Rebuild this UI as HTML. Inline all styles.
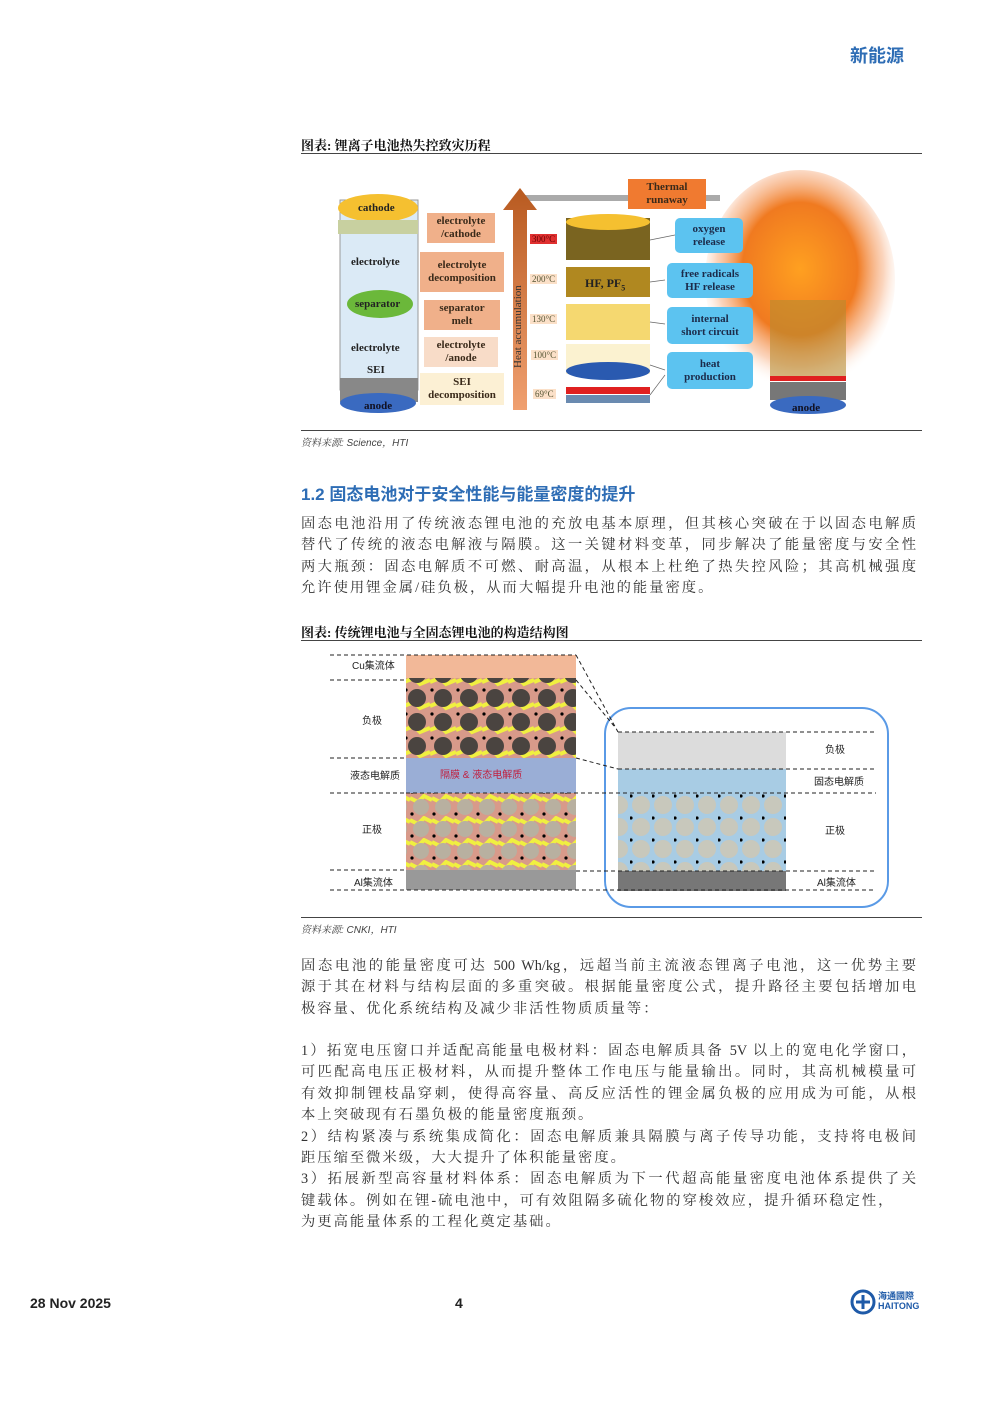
<!DOCTYPE html>
<html><head><meta charset="utf-8">
<style>
body{margin:0;background:#fff;}
#p{position:relative;width:992px;height:1403px;overflow:hidden;font-family:"Liberation Sans","Noto Sans CJK SC",sans-serif;color:#222;}
.a{position:absolute;}
.t{position:absolute;left:301px;width:615px;font-family:"Liberation Serif","Noto Serif CJK SC",serif;font-size:14.3px;line-height:21.4px;color:#333;}
.t div{text-align:justify;text-align-last:justify;white-space:nowrap;}
.t div.l{text-align-last:left;letter-spacing:2px;}
.cap{position:absolute;left:301px;font-family:"Liberation Serif","Noto Serif CJK SC",serif;font-weight:bold;font-size:13px;color:#111;}
.rule{position:absolute;left:301px;width:621px;height:1px;background:#444;}
.src{position:absolute;left:301px;font-size:10px;font-style:italic;color:#444;font-family:"Liberation Sans","Noto Serif CJK SC",sans-serif;}
.bx{position:absolute;font-family:"Liberation Serif",serif;font-weight:bold;font-size:11px;text-align:center;line-height:13px;color:#3a2a1a;display:flex;align-items:center;justify-content:center;}
.bl{position:absolute;background:#5cc3f0;border-radius:5px;font-family:"Liberation Serif",serif;font-weight:bold;font-size:11px;text-align:center;line-height:13px;color:#1c2b4a;display:flex;align-items:center;justify-content:center;}
.tc{position:absolute;font-family:"Liberation Serif",serif;font-size:9px;color:#553;background:#fbe0c8;padding:0 2px;}
.lb{position:absolute;font-size:10px;color:#222;}
</style></head><body><div id="p">
<div class="a" style="left:850px;top:42px;font-size:18px;font-weight:bold;color:#2e6db5;font-family:'Noto Sans CJK SC',sans-serif;">新能源</div>

<div class="cap" style="top:135px;">图表: 锂离子电池热失控致灾历程</div>
<div class="rule" style="top:153px;"></div>

<svg class="a" style="left:300px;top:170px" width="600" height="250">
<defs>
<radialGradient id="fire" cx="0.5" cy="0.45" r="0.55"><stop offset="0" stop-color="#ffa020"/><stop offset="0.55" stop-color="#f07a20"/><stop offset="0.8" stop-color="#f8b890" stop-opacity="0.6"/><stop offset="1" stop-color="#fff" stop-opacity="0"/></radialGradient>
<linearGradient id="arr" x1="0" y1="0" x2="0" y2="1"><stop offset="0" stop-color="#b85a20"/><stop offset="1" stop-color="#f0a070"/></linearGradient>
</defs>
<rect x="40" y="30" width="78" height="190" fill="#dbeaf6" stroke="#999"/>
<ellipse cx="78" cy="38" rx="40" ry="14" fill="#f5c030"/>
<rect x="38" y="50" width="80" height="14" fill="#c8d0a0"/>
<ellipse cx="80" cy="134" rx="33" ry="14" fill="#6bb83a"/>
<rect x="40" y="208" width="78" height="24" fill="#888"/>
<ellipse cx="78" cy="233" rx="38" ry="10" fill="#3a6ac0"/>
<rect x="220" y="25" width="200" height="6" fill="#aaa"/>
<polygon points="220,18 237,40 227,40 227,240 213,240 213,40 203,40" fill="url(#arr)"/>
<rect x="266" y="48" width="84" height="42" fill="#7a6420"/>
<ellipse cx="308" cy="52" rx="42" ry="8" fill="#f5c030"/>
<rect x="266" y="97" width="84" height="30" fill="#b08820"/>
<rect x="266" y="134" width="84" height="36" fill="#f5d870"/>
<rect x="266" y="174" width="84" height="30" fill="#fbf2d0"/>
<ellipse cx="308" cy="201" rx="42" ry="9" fill="#2a5ab0"/>
<rect x="266" y="217" width="84" height="7" fill="#e02020"/>
<rect x="266" y="225" width="84" height="8" fill="#6a8ab0"/>
<ellipse cx="500" cy="110" rx="95" ry="110" fill="url(#fire)"/>
<rect x="470" y="130" width="76" height="76" fill="#b88a30" opacity="0.6"/>
<rect x="470" y="206" width="76" height="5" fill="#e02020"/>
<rect x="470" y="212" width="76" height="18" fill="#777"/>
<ellipse cx="508" cy="235" rx="38" ry="9" fill="#3a6ac0"/>
<g stroke="#666" stroke-width="0.7"><line x1="350" y1="70" x2="375" y2="65"/><line x1="350" y1="112" x2="365" y2="110"/><line x1="350" y1="152" x2="365" y2="154"/><line x1="350" y1="195" x2="365" y2="200"/><line x1="350" y1="225" x2="365" y2="205"/></g>
</svg>
<div class="a" style="left:358px;top:202px;font-family:'Liberation Serif';font-weight:bold;font-size:11px;">cathode</div>
<div class="a" style="left:351px;top:256px;font-family:'Liberation Serif';font-weight:bold;font-size:11px;">electrolyte</div>
<div class="a" style="left:355px;top:298px;font-family:'Liberation Serif';font-weight:bold;font-size:11px;">separator</div>
<div class="a" style="left:351px;top:342px;font-family:'Liberation Serif';font-weight:bold;font-size:11px;">electrolyte</div>
<div class="a" style="left:367px;top:364px;font-family:'Liberation Serif';font-weight:bold;font-size:11px;">SEI</div>
<div class="a" style="left:364px;top:400px;font-family:'Liberation Serif';font-weight:bold;font-size:11px;color:#112;">anode</div>
<div class="bx" style="left:427px;top:213px;width:68px;height:30px;background:#f0b08a;">electrolyte<br>/cathode</div>
<div class="bx" style="left:420px;top:252px;width:84px;height:40px;background:#f0b08a;">electrolyte<br>decomposition</div>
<div class="bx" style="left:424px;top:300px;width:76px;height:30px;background:#f0b08a;">separator<br>melt</div>
<div class="bx" style="left:424px;top:337px;width:74px;height:30px;background:#f8dcc8;">electrolyte<br>/anode</div>
<div class="bx" style="left:420px;top:373px;width:84px;height:32px;background:#fcf0d4;">SEI<br>decomposition</div>
<div class="bx" style="left:628px;top:179px;width:78px;height:30px;background:#f07a30;">Thermal<br>runaway</div>
<div class="a" style="left:512px;top:368px;transform:rotate(-90deg);transform-origin:0 0;font-family:'Liberation Serif';font-size:11px;color:#333;">Heat accumulation</div>
<div class="tc" style="left:530px;top:234px;background:#e03030;color:#600;">300°C</div>
<div class="tc" style="left:530px;top:274px;">200°C</div>
<div class="tc" style="left:530px;top:314px;">130°C</div>
<div class="tc" style="left:531px;top:350px;">100°C</div>
<div class="tc" style="left:533px;top:389px;">69°C</div>
<div class="a" style="left:585px;top:276px;font-family:'Liberation Serif';font-weight:bold;font-size:12px;">HF, PF<sub style="font-size:8px">5</sub></div>
<div class="bl" style="left:675px;top:218px;width:68px;height:35px;">oxygen<br>release</div>
<div class="bl" style="left:667px;top:263px;width:86px;height:35px;">free radicals<br>HF release</div>
<div class="bl" style="left:667px;top:307px;width:86px;height:37px;">internal<br>short circuit</div>
<div class="bl" style="left:667px;top:352px;width:86px;height:37px;">heat<br>production</div>
<div class="a" style="left:792px;top:402px;font-family:'Liberation Serif';font-weight:bold;font-size:11px;color:#112;">anode</div>
<div class="rule" style="top:430px;"></div>
<div class="src" style="top:434px;">资料来源: Science，HTI</div>

<div class="a" style="left:301px;top:480px;font-size:17px;font-weight:bold;color:#2e6db5;font-family:'Liberation Sans','Noto Sans CJK SC',sans-serif;">1.2 固态电池对于安全性能与能量密度的提升</div>
<div class="t" style="top:514px;">
<div>固态电池沿用了传统液态锂电池的充放电基本原理，但其核心突破在于以固态电解质</div>
<div>替代了传统的液态电解液与隔膜。这一关键材料变革，同步解决了能量密度与安全性</div>
<div>两大瓶颈：固态电解质不可燃、耐高温，从根本上杜绝了热失控风险；其高机械强度</div>
<div class="l">允许使用锂金属/硅负极，从而大幅提升电池的能量密度。</div>
</div>

<div class="cap" style="top:622px;">图表: 传统锂电池与全固态锂电池的构造结构图</div>
<div class="rule" style="top:640px;"></div>

<svg class="a" style="left:300px;top:640px" width="600" height="280">
<defs>
<pattern id="pn" width="26" height="24" patternUnits="userSpaceOnUse"><rect width="26" height="24" fill="#d89a8a"/><path d="M0 18 L10 14 L16 20 L26 16" stroke="#f0f040" stroke-width="4" fill="none"/><circle cx="13" cy="10" r="9" fill="#4a4440"/><circle cx="2" cy="2" r="1.6" fill="#000"/></pattern>
<pattern id="pp" width="22" height="22" patternUnits="userSpaceOnUse"><rect width="22" height="22" fill="#d89a8a"/><path d="M0 4 L8 8 L14 2 L22 6" stroke="#f0f040" stroke-width="4" fill="none"/><circle cx="11" cy="13" r="8" fill="#b8b0a0"/><circle cx="2" cy="20" r="1.6" fill="#000"/></pattern>
<pattern id="ps" width="22" height="22" patternUnits="userSpaceOnUse"><rect width="22" height="22" fill="#a8cce4"/><circle cx="11" cy="11" r="9" fill="#c8c8bc"/><circle cx="1" cy="2" r="1.6" fill="#000"/></pattern>
</defs>
<rect x="106" y="15" width="170" height="23" fill="#f2b898"/>
<rect x="106" y="38" width="170" height="80" fill="url(#pn)"/>
<rect x="106" y="118" width="170" height="35" fill="#9aaed6"/>
<rect x="106" y="153" width="170" height="77" fill="url(#pp)"/>
<rect x="106" y="230" width="170" height="20" fill="#999"/>
<rect x="318" y="92" width="168" height="37" fill="#dcdcdc"/>
<rect x="318" y="129" width="168" height="25" fill="#a8cce4"/>
<rect x="318" y="154" width="168" height="77" fill="url(#ps)"/>
<rect x="318" y="231" width="168" height="20" fill="#777"/>
<rect x="305" y="68" width="283" height="199" rx="26" fill="none" stroke="#5a9ae6" stroke-width="2"/>
<g stroke="#222" stroke-width="1" stroke-dasharray="4,3" fill="none">
<line x1="30" y1="15" x2="276" y2="15"/><line x1="30" y1="40" x2="106" y2="40"/><line x1="30" y1="118" x2="106" y2="118"/><line x1="30" y1="153" x2="106" y2="153"/><line x1="30" y1="230" x2="106" y2="230"/><line x1="30" y1="250" x2="576" y2="250"/>
<line x1="318" y1="92" x2="576" y2="92"/><line x1="318" y1="129" x2="576" y2="129"/><line x1="106" y1="153" x2="576" y2="153"/><line x1="276" y1="231" x2="576" y2="231"/>
<line x1="276" y1="15" x2="318" y2="92"/><line x1="276" y1="40" x2="314" y2="86"/><line x1="276" y1="118" x2="318" y2="129"/>
</g>
</svg>
<div class="lb" style="left:352px;top:657px;">Cu集流体</div>
<div class="lb" style="left:362px;top:712px;">负极</div>
<div class="lb" style="left:350px;top:767px;">液态电解质</div>
<div class="a" style="left:440px;top:766px;font-size:10px;color:#c02040;">隔膜 &amp; 液态电解质</div>
<div class="lb" style="left:362px;top:821px;">正极</div>
<div class="lb" style="left:354px;top:874px;">Al集流体</div>
<div class="lb" style="left:825px;top:741px;">负极</div>
<div class="lb" style="left:814px;top:773px;">固态电解质</div>
<div class="lb" style="left:825px;top:822px;">正极</div>
<div class="lb" style="left:817px;top:874px;">Al集流体</div>
<div class="rule" style="top:917px;"></div>
<div class="src" style="top:921px;">资料来源: CNKI，HTI</div>

<div class="t" style="top:956px;">
<div>固态电池的能量密度可达 500 Wh/kg，远超当前主流液态锂离子电池，这一优势主要</div>
<div>源于其在材料与结构层面的多重突破。根据能量密度公式，提升路径主要包括增加电</div>
<div class="l">极容量、优化系统结构及减少非活性物质质量等：</div>
</div>
<div class="t" style="top:1041px;">
<div>1）拓宽电压窗口并适配高能量电极材料：固态电解质具备 5V 以上的宽电化学窗口，</div>
<div>可匹配高电压正极材料，从而提升整体工作电压与能量输出。同时，其高机械模量可</div>
<div>有效抑制锂枝晶穿刺，使得高容量、高反应活性的锂金属负极的应用成为可能，从根</div>
<div class="l">本上突破现有石墨负极的能量密度瓶颈。</div>
<div>2）结构紧凑与系统集成简化：固态电解质兼具隔膜与离子传导功能，支持将电极间</div>
<div class="l">距压缩至微米级，大大提升了体积能量密度。</div>
<div>3）拓展新型高容量材料体系：固态电解质为下一代超高能量密度电池体系提供了关</div>
<div class="l">键载体。例如在锂-硫电池中，可有效阻隔多硫化物的穿梭效应，提升循环稳定性，</div>
<div class="l">为更高能量体系的工程化奠定基础。</div>
</div>

<div class="a" style="left:30px;top:1295px;font-size:14px;font-weight:bold;">28 Nov 2025</div>
<div class="a" style="left:455px;top:1295px;font-size:14px;font-weight:bold;">4</div>
<svg class="a" style="left:850px;top:1289px" width="26" height="26"><circle cx="13" cy="13" r="11" fill="none" stroke="#1e5aa8" stroke-width="3"/><path d="M6 13 H20 M13 6 V20" stroke="#1e5aa8" stroke-width="3"/></svg>
<div class="a" style="left:878px;top:1291px;font-size:9px;font-weight:bold;color:#1e5aa8;line-height:10px;">海通國際<br>HAITONG</div>
</div></body></html>
